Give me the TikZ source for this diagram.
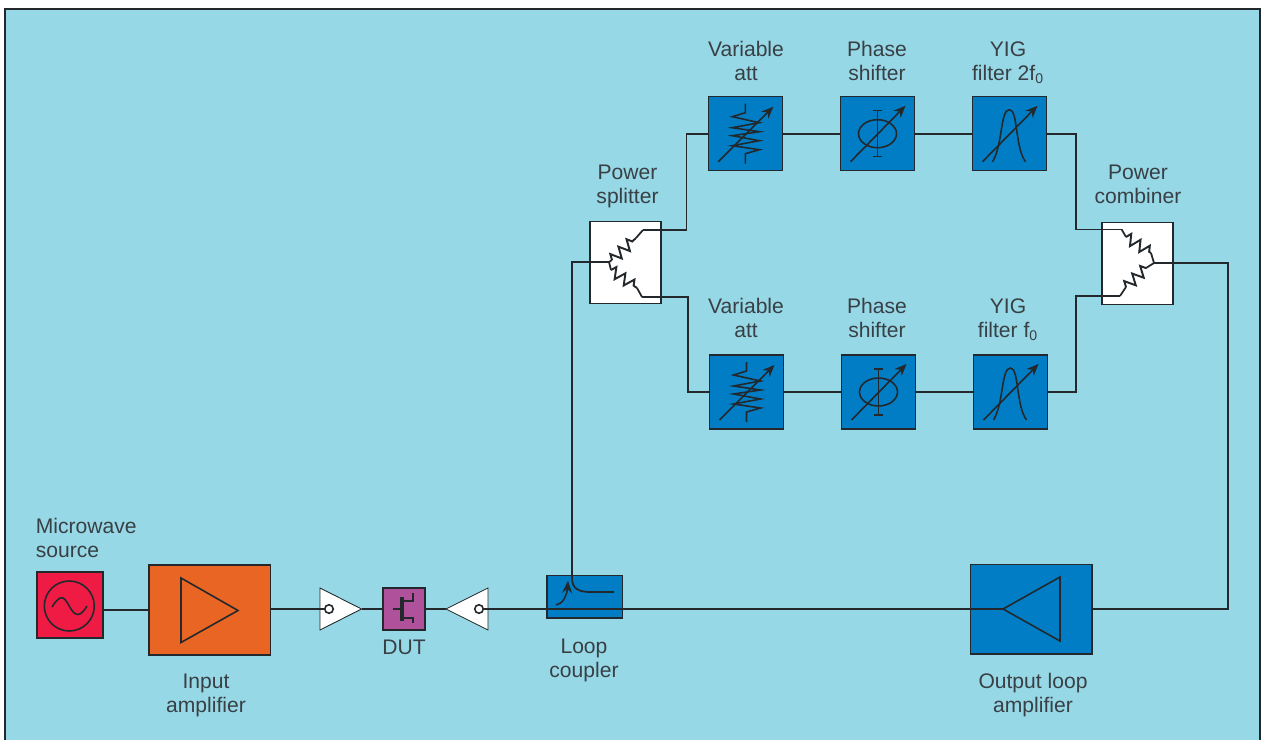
\documentclass[tikz,border=0pt]{standalone}
\usepackage{fontspec}
\usepackage{xcolor}
\setmainfont{Liberation Sans}
\usetikzlibrary{arrows.meta,decorations.pathmorphing}
\definecolor{panelbg}{HTML}{97D8E6}
\definecolor{boxblue}{HTML}{017DC5}
\definecolor{amporange}{HTML}{E86524}
\definecolor{srcred}{HTML}{F01B45}
\definecolor{dutpurple}{HTML}{B0529B}
\definecolor{inkdark}{HTML}{23282C}
\definecolor{inktext}{HTML}{384045}
\tikzset{
  wire/.style={draw=inkdark,line width=1pt},
  sym/.style={draw=inkdark,line width=0.9pt},
  symarrow/.style={sym,-{Stealth[length=2.4mm,width=2mm]}},
  res/.style={draw=inkdark,line width=1.1pt,decorate,decoration={zigzag,amplitude=0.11cm,segment length=0.22cm}},
  block/.style={draw=inkdark,line width=0.9pt,fill=boxblue,inner sep=0pt,minimum width=1.48cm,minimum height=1.48cm},
  lbl/.style={text=inktext,font=\fontsize{12}{13.6}\selectfont,align=center,inner sep=0pt}
}
\begin{document}
\begin{tikzpicture}[x=0.02cm,y=-0.02cm]
\useasboundingbox (0,0) rectangle (1261,740);
\fill[white] (0,0) rectangle (1261,740);
\fill[panelbg] (5,9) rectangle (1260,740);
\draw[wire] (5,740) -- (5,9) -- (1260,9) -- (1260,740);
% bottom row
\node[block,fill=srcred,minimum width=1.32cm,minimum height=1.32cm] (src) at (70,605) {};
\node[block,fill=amporange,minimum width=2.44cm,minimum height=1.8cm] (inamp) at (209.7,610) {};
\node[block,fill=dutpurple,minimum width=0.84cm,minimum height=0.84cm] (dut) at (404,609) {};
\node[block,minimum width=1.51cm,minimum height=0.85cm] (coupler) at (584.7,596.7) {};
\node[block,minimum width=2.43cm,minimum height=1.79cm] (outamp) at (1031.2,609.2) {};
% upper rows
\node[block] (attt) at (745.3,133.7) {};
\node[block] (phat) at (877.5,133.7) {};
\node[block] (yigt) at (1009.5,133.7) {};
\node[block] (attb) at (746.5,392) {};
\node[block] (phab) at (878.5,392) {};
\node[block] (yigb) at (1010.5,392) {};
\node[block,fill=white,minimum width=1.42cm,minimum height=1.64cm] (split) at (625.4,262.7) {};
\node[block,fill=white,minimum width=1.42cm,minimum height=1.64cm] (comb) at (1137.7,263.5) {};
% labels
\node[lbl,align=left,anchor=west] (lsrc) at (35.5,538) {Microwave\\source};
\node[lbl] (linamp) at (206,695) {Input\\amplifier};
\node[lbl] (ldut) at (404,647) {DUT};
\node[lbl] (lcoupler) at (584,660) {Loop\\coupler};
\node[lbl] (loutamp) at (1033,695) {Output loop\\amplifier};
\node[lbl] (lsplit) at (627.5,186) {Power\\splitter};
\node[lbl] (lcomb) at (1138,184) {Power\\combiner};
\node[lbl] (lattt) at (746,61) {Variable\\att};
\node[lbl] (lphat) at (877,61) {Phase\\shifter};
\node[lbl] (lyigt) at (1008,63) {YIG\\filter 2f\textsubscript{0}};
\node[lbl] (lattb) at (746,318) {Variable\\att};
\node[lbl] (lphab) at (877,318) {Phase\\shifter};
\node[lbl] (lyigb) at (1008,320) {YIG\\filter f\textsubscript{0}};
% source symbol
\draw[sym] (69.3,606) circle[radius=0.5cm];
\draw[sym] (52,607) .. controls (57,599) and (60,597) .. (63,598) .. controls (68,600) and (71,614.5) .. (78,614.5) .. controls (81,614.5) and (84,611) .. (87,606);
% amplifiers
\draw[sym] (181,578) -- (238,610.5) -- (181,642.5) -- cycle;
\coordinate (otip) at (1003,609);
\draw[sym] (otip) -- (1060,577) -- (1060,641) -- cycle;
% isolators
\coordinate (btip) at (361.5,609);
\coordinate (ctip) at (446,609);
\fill[white,draw=inkdark,line width=0.5pt] (320,588) -- (btip) -- (320,630) -- cycle;
\fill[white,draw=inkdark,line width=0.5pt] (488,588) -- (ctip) -- (488,630) -- cycle;
\node[sym,circle,inner sep=0pt,minimum size=0.17cm] (bport) at (329,609) {};
\node[sym,circle,inner sep=0pt,minimum size=0.17cm] (cport) at (479,609) {};
% FET
\draw[sym] (392.7,609) -- (400,609);
\fill[inkdark] (400,596.7) rectangle (404,621);
\draw[sym,line width=1.2pt] (404,600.7) -- (412.7,600.7) -- (412.7,593.3);
\draw[sym,line width=1.2pt] (404,618.3) -- (412.7,618.3) -- (412.7,623.3);
% bottom wires
\draw[wire] (src.east |- 0,610) -- (inamp.west |- 0,610);
\draw[wire] (inamp.east |- bport) -- (bport);
\draw[wire] (btip) -- (dut.west |- btip);
\draw[wire] (dut.east |- ctip) -- (ctip);
\draw[wire] (cport) -- (otip);
\draw[wire,line width=1.3pt] (523,609) -- (848,609);
\draw[wire,line width=1.6pt] (754,609) -- (822,609);
\draw[wire] (outamp.east |- otip) -- (1228,609) -- (1228,263) -- (comb.east |- 0,263);
% splitter
\coordinate (sin) at (609,262);
\coordinate (sup) at (643,230);
\coordinate (sdn) at (642,297);
\draw[wire] (sin) -- (612,260);
\draw[res] (612,260) -- (636,238);
\draw[wire] (636,238) -- (sup);
\draw[wire] (sin) -- (611,270);
\draw[res] (611,270) -- (637,288);
\draw[wire] (637,288) -- (sdn);
% combiner
\coordinate (cup) at (1121.7,229.5);
\coordinate (cdn) at (1120,296);
\coordinate (cout) at (1154,263);
\draw[wire] (cup) -- (1126,237);
\draw[res] (1126,237) -- (1151,253);
\draw[wire] (1151,253) -- (cout);
\draw[wire] (cdn) -- (1126,287);
\draw[res] (1126,287) -- (1146,268);
\draw[wire] (1146,268) -- (cout);
\draw[wire] (cout) -- (comb.east |- cout);
% loop wires
\draw[wire] (sin) -- (572,262) -- (572,578) .. controls (572,588) and (578,592) .. (590,592) -- (614,592);
\draw[sym,-{Stealth[length=2.4mm,width=2mm]}] (556,605) .. controls (563,604) and (567,595) .. (568,581);
\draw[wire] (sup) -- (686.5,230) -- (686.5,133.7) -- (attt.west);
\draw[wire] (sdn) -- (688,297) -- (688,392) -- (attb.west);
\draw[wire] (attt) -- (phat);
\draw[wire] (phat) -- (yigt);
\draw[wire] (attb) -- (phab);
\draw[wire] (phab) -- (yigb);
\draw[wire] (yigt.east) -- (1076,133.7) -- (1076,229.5) -- (cup);
\draw[wire] (yigb.east) -- (1076,392) -- (1076,296) -- (cdn);
% att top
\draw[sym] (745.3,103.7) -- ++(0,9) -- ++(-13,4) -- ++(27,6) -- ++(-27,5) -- ++(27,4) -- ++(-27,4) -- ++(27,5) -- ++(-27,5) -- ++(27,4) -- ++(-14,4) -- ++(0,10);
\draw[symarrow] (718.3,161.7) -- (773.3,106.7);
% att bottom
\draw[sym] (746.5,362) -- ++(0,9) -- ++(-13,4) -- ++(27,6) -- ++(-27,5) -- ++(27,4) -- ++(-27,4) -- ++(27,5) -- ++(-27,5) -- ++(27,4) -- ++(-14,4) -- ++(0,10);
\draw[symarrow] (719.5,420) -- (774.5,365);
% phase top
\draw[sym] (877.5,133.7) ellipse[x radius=0.38cm,y radius=0.28cm];
\draw[sym] (873,110.7) -- (882,110.7) (877.5,110.7) -- (877.5,156.7) (873,156.7) -- (882,156.7);
\draw[symarrow] (850.5,161.7) -- (905.5,105.7);
% phase bottom
\draw[sym] (878.5,392) ellipse[x radius=0.38cm,y radius=0.28cm];
\draw[sym] (874,369) -- (883,369) (878.5,369) -- (878.5,415) (874,415) -- (883,415);
\draw[symarrow] (851.5,420) -- (906.5,364);
% yig top
\draw[sym] (992.5,161.7) .. controls (1003,145) and (1000,109.7) .. (1009.5,109.7) .. controls (1018,109.7) and (1015,148) .. (1025.5,161.7);
\draw[symarrow] (982.5,161.7) -- (1037.5,105.7);
% yig bottom
\draw[sym] (993.5,420) .. controls (1004,403) and (1001,368) .. (1010.5,368) .. controls (1019,368) and (1016,406) .. (1026.5,420);
\draw[symarrow] (983.5,420) -- (1038.5,364);
\end{tikzpicture}
\end{document}
